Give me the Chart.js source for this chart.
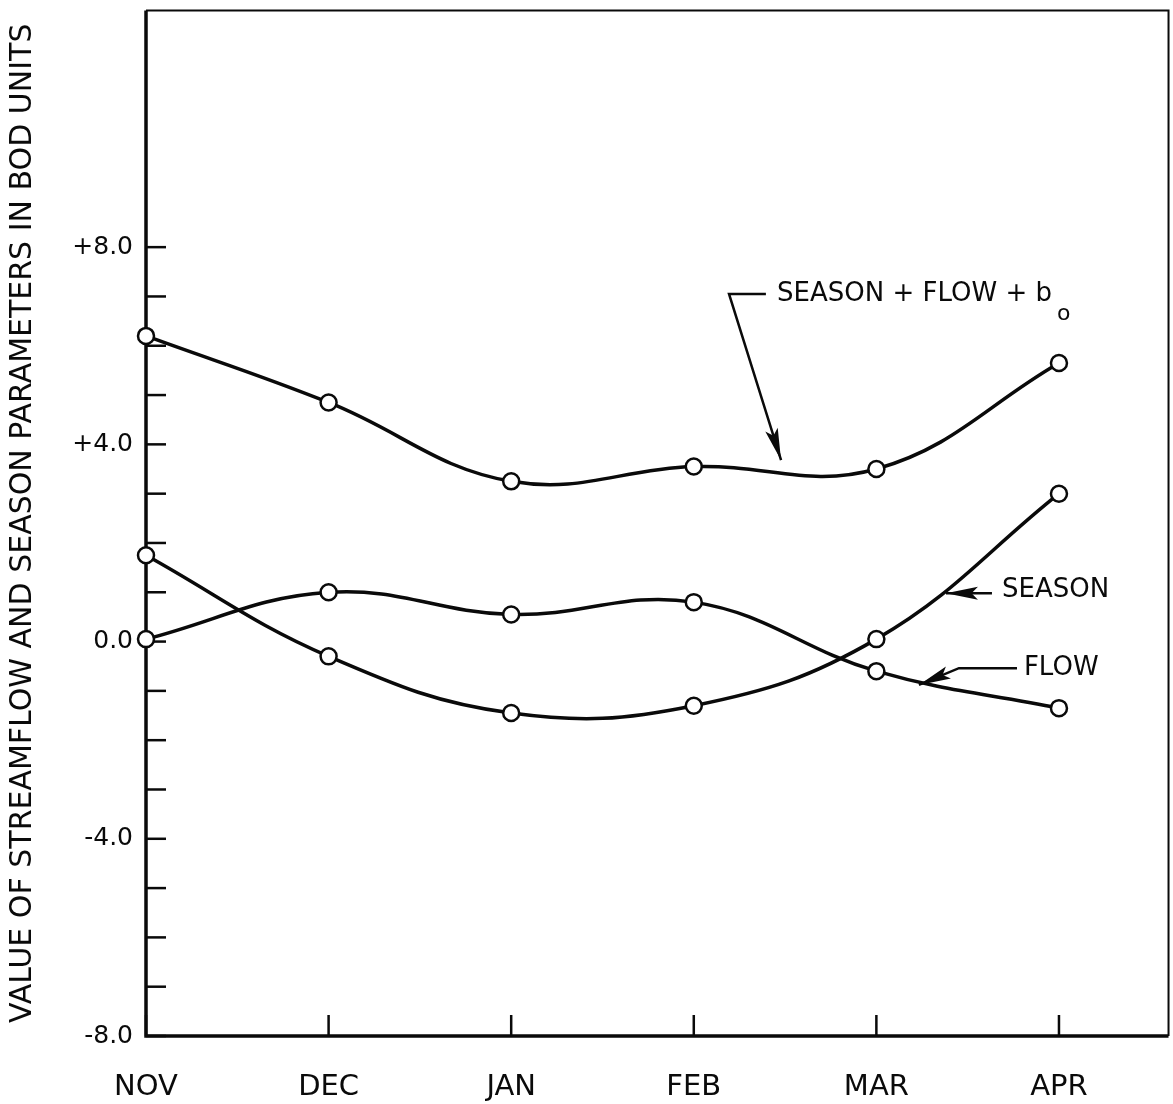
<!DOCTYPE html>
<html><head><meta charset="utf-8">
<script src="https://cdn.jsdelivr.net/npm/chart.js@4"></script>
<style>html,body{margin:0;padding:0;background:#fff}canvas{display:block}</style>
</head><body>
<canvas id="c" width="1173" height="1104"></canvas>
<script>
// ---- data ----
const months = ['NOV', 'DEC', 'JAN', 'FEB', 'MAR', 'APR'];
const seasonFlowB0 = [6.2, 4.85, 3.25, 3.55, 3.5, 5.65];
const season = [1.75, -0.3, -1.45, -1.3, 0.05, 3.0];
const flow = [0.05, 1.0, 0.55, 0.8, -0.6, -1.35];
const yTickValues = [-8, -7, -6, -5, -4, -3, -2, -1, 0, 1, 2, 3, 4, 5, 6, 7, 8];
const yLabelValues = [-8, -4, 0, 4, 8];
const yAxisTitle = 'VALUE OF STREAMFLOW AND SEASON PARAMETERS IN BOD UNITS';
const labelSFB = 'SEASON + FLOW + b';
const labelSFBSub = 'o';
const labelSeason = 'SEASON';
const labelFlow = 'FLOW';

// ---- styles / annotation anchors (data units) ----
const FONT = '"DejaVu Sans", sans-serif';
const INK = '#0a0a0a';
const X_MAX = 5.567;      // x scale extent past APR
const X_FRAME = 5.6;      // right edge of the drawn frame
const annot = {
  sfb: { text: [3.456, 7.05], path: [[3.395, 7.05], [3.193, 7.05], [3.478, 3.68]] },
  season: { text: [4.688, 1.04], path: [[4.633, 0.98], [4.381, 0.98]] },
  flow: { text: [4.808, -0.54], path: [[4.770, -0.54], [4.452, -0.54], [4.233, -0.88]] }
};

const toPts = arr => arr.map((v, i) => ({ x: i, y: v }));
const ds = (label, arr) => ({
  label, data: toPts(arr),
  borderColor: INK, borderWidth: 3.5, tension: 0.4,
  pointRadius: 8, pointBorderWidth: 2.5, pointBackgroundColor: '#fff',
  pointBorderColor: INK, clip: false, fill: false
});

function arrowPath(ctx, pts) {
  ctx.beginPath();
  ctx.moveTo(pts[0][0], pts[0][1]);
  for (let i = 1; i < pts.length; i++) ctx.lineTo(pts[i][0], pts[i][1]);
  ctx.stroke();
  const [x0, y0] = pts[pts.length - 2];
  const [x1, y1] = pts[pts.length - 1];
  const ang = Math.atan2(y1 - y0, x1 - x0);
  const L = 32, W = 6.5;
  const c = Math.cos(ang), s = Math.sin(ang);
  ctx.beginPath();
  ctx.moveTo(x1, y1);
  ctx.lineTo(x1 - L * c + W * s, y1 - L * s - W * c);
  ctx.lineTo(x1 - L * 0.8 * c, y1 - L * 0.8 * s);
  ctx.lineTo(x1 - L * c - W * s, y1 - L * s + W * c);
  ctx.closePath();
  ctx.fill();
}

const framePlugin = {
  id: 'frame',
  beforeDatasetsDraw(chart) {
    const { ctx, chartArea: a, scales: { x, y } } = chart;
    const right = x.getPixelForValue(X_FRAME);
    ctx.save();
    ctx.strokeStyle = INK;
    ctx.lineWidth = 2.5;
    yTickValues.forEach(v => {
      const py = y.getPixelForValue(v);
      ctx.beginPath(); ctx.moveTo(a.left, py); ctx.lineTo(a.left + 20, py); ctx.stroke();
    });
    months.forEach((m, i) => {
      const px = x.getPixelForValue(i);
      ctx.beginPath(); ctx.moveTo(px, a.bottom); ctx.lineTo(px, a.bottom - 21); ctx.stroke();
    });
    ctx.lineWidth = 2;
    ctx.beginPath();
    ctx.moveTo(a.left, a.top); ctx.lineTo(right, a.top); ctx.lineTo(right, a.bottom);
    ctx.stroke();
    ctx.lineWidth = 3.5;
    ctx.beginPath();
    ctx.moveTo(a.left, a.top); ctx.lineTo(a.left, a.bottom); ctx.lineTo(right, a.bottom);
    ctx.stroke();
    ctx.restore();
  },
  afterDatasetsDraw(chart) {
    const { ctx, scales: { x, y } } = chart;
    const P = p => [x.getPixelForValue(p[0]), y.getPixelForValue(p[1])];
    ctx.save();
    ctx.strokeStyle = INK; ctx.fillStyle = INK; ctx.lineWidth = 2.5;
    ctx.lineJoin = 'miter';
    Object.values(annot).forEach(a => arrowPath(ctx, a.path.map(P)));
    ctx.font = '26px ' + FONT;
    ctx.textAlign = 'left'; ctx.textBaseline = 'middle';
    let [tx, ty] = P(annot.sfb.text);
    ctx.fillText(labelSFB, tx, ty);
    const w = ctx.measureText(labelSFB).width;
    ctx.font = '22px ' + FONT;
    ctx.fillText(labelSFBSub, tx + w + 5, ty + 20);
    ctx.font = '26px ' + FONT;
    [tx, ty] = P(annot.season.text);
    ctx.fillText(labelSeason, tx, ty);
    [tx, ty] = P(annot.flow.text);
    ctx.fillText(labelFlow, tx, ty);
    ctx.restore();
  }
};

const fmtY = v => v > 0 ? '+' + v.toFixed(1) : (v < 0 ? '-' + Math.abs(v).toFixed(1) : '0.0');

new Chart(document.getElementById('c'), {
  type: 'line',
  data: { datasets: [ds('SEASON + FLOW + b0', seasonFlowB0), ds('SEASON', season), ds('FLOW', flow)] },
  plugins: [framePlugin],
  options: {
    responsive: false, animation: false,
    layout: { padding: { top: 10, right: 3, left: 0, bottom: 0 } },
    plugins: { legend: { display: false }, tooltip: { enabled: false } },
    scales: {
      x: {
        type: 'linear', min: 0, max: X_MAX,
        afterBuildTicks: s => { s.ticks = months.map((m, i) => ({ value: i })); },
        afterFit: s => { s.height = 68; s.paddingLeft = 0; s.paddingRight = 0; },
        grid: { display: false, drawTicks: false },
        border: { display: false },
        ticks: { callback: v => months[v], color: INK, font: { family: FONT, size: 29 }, padding: 34, maxRotation: 0, autoSkip: false }
      },
      y: {
        type: 'linear', min: -8, max: 12.8,
        afterBuildTicks: s => { s.ticks = yTickValues.map(v => ({ value: v })); },
        afterFit: s => { s.width = 146; s.paddingTop = 0; s.paddingBottom = 0; },
        grid: { display: false, drawTicks: false },
        border: { display: false },
        ticks: { callback: v => yLabelValues.includes(v) ? fmtY(v) : '', color: INK, font: { family: FONT, size: 25 }, padding: 13, autoSkip: false },
        title: { display: true, text: yAxisTitle, color: INK, font: { family: FONT, size: 30 }, padding: { top: 5, bottom: 0 } }
      }
    }
  }
});
</script>
</body></html>
